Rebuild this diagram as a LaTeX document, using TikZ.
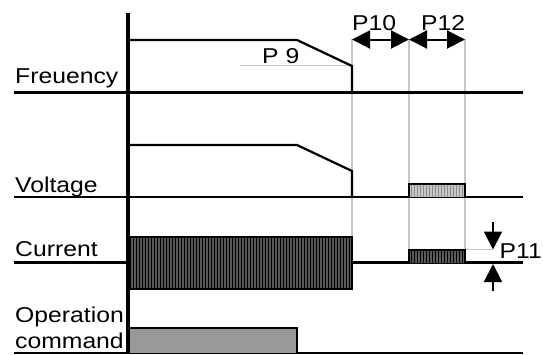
\documentclass[tikz,border=0pt]{standalone}
\usepackage{fontspec}
\newfontfamily\lab[FakeStretch=1.15]{Liberation Sans}
\usetikzlibrary{arrows.meta}
\begin{document}
\begin{tikzpicture}[x=1pt,y=-1pt,
  axisline/.style={line width=3.4pt},
  baseln/.style={line width=2.8pt},
  sig/.style={line width=2.2pt},
  guide/.style={line width=1.6pt,color=black!22},
  lbl/.style={anchor=base west,inner sep=0pt,font=\lab\fontsize{21.5}{25}\selectfont},
  dim/.style={line width=2pt,{Triangle[length=18pt,width=18pt]}-{Triangle[length=18pt,width=18pt]}},
  sdim/.style={line width=2pt,-{Triangle[length=18pt,width=18pt]}},
  hatch/.style={line width=0.8pt}]
\useasboundingbox (0,0) rectangle (543,354);
% guides
\coordinate (g1t) at (352,39); \coordinate (g1b) at (352,237);
\coordinate (g2t) at (409,39); \coordinate (g2b) at (409,250);
\coordinate (g3t) at (465,39); \coordinate (g3b) at (465,250);
\draw[guide] (g1t) -- (g1b);
\draw[guide] (g2t) -- (g2b);
\draw[guide] (g3t) -- (g3b);
\coordinate (p9a) at (240,65.5); \coordinate (p9b) at (352,65.5);
\draw[guide] (p9a) -- (p9b);
\coordinate (p11a) at (465,249.5); \coordinate (p11b) at (493,249.5);
\draw[guide] (p11a) -- (p11b);
% baselines
\draw[baseln] (14,92.5) -- (523,92.5);
\draw[baseln] (14,197) -- (523,197);
\draw[baseln] (14,262.5) -- (523,262.5);
\draw[line width=1.6pt] (14,353) -- (523,353);
% frequency
\draw[sig] (128,40) -- (297,40) -- (352,66) -- (352,92.5);
% voltage
\draw[sig] (128,145) -- (297,145) -- (352,171) -- (352,197);
\fill[black!22] (409,184) rectangle (465,197);
\foreach \x in {411,414,...,463} \draw[hatch,black!45] (\x,184) -- (\x,197);
\draw[line width=1.8pt] (409,197) -- (409,184) -- (465,184) -- (465,197);
% current
\fill[black!65] (128,237) rectangle (352,289);
\foreach \x in {130,133,...,350} \draw[hatch,black] (\x,237) -- (\x,289);
\draw[line width=1.8pt] (128,237) rectangle (352,289);
\fill[black!65] (409,250) rectangle (465,263);
\foreach \x in {411,414,...,463} \draw[hatch,black] (\x,250) -- (\x,263);
\draw[line width=1.8pt] (409,263) -- (409,250) -- (465,250) -- (465,263);
% operation command
\fill[black!40] (128,328) rectangle (297,353);
\draw[line width=2pt] (128,328) -- (297,328) -- (297,353);
% axis
\draw[axisline] (128,13) -- (128,354);
% dimension arrows
\coordinate (d1) at (352,39.5); \coordinate (d2) at (409,39.5); \coordinate (d3) at (465,39.5);
\draw[dim] (d1) -- (d2);
\draw[dim] (d2) -- (d3);
\coordinate (u1) at (493,222); \coordinate (u2) at (493,249.5);
\coordinate (l1) at (493,291); \coordinate (l2) at (493,264);
\draw[sdim] (u1) -- (u2);
\draw[sdim] (l1) -- (l2);
% labels
\node[lbl] (tf) at (15,83) {Freuency};
\node[lbl] (tv) at (15,192) {Voltage};
\node[lbl] (tc) at (15,256) {Current};
\node[lbl] (to) at (15,322) {Operation};
\node[lbl] (tm) at (15,348) {command};
\node[lbl] (t9) at (262,63) {P 9};
\node[lbl] (t10) at (352,30) {P10};
\node[lbl] (t12) at (421,30) {P12};
\node[lbl] (t11) at (499.5,258) {P11};
\end{tikzpicture}
\end{document}
